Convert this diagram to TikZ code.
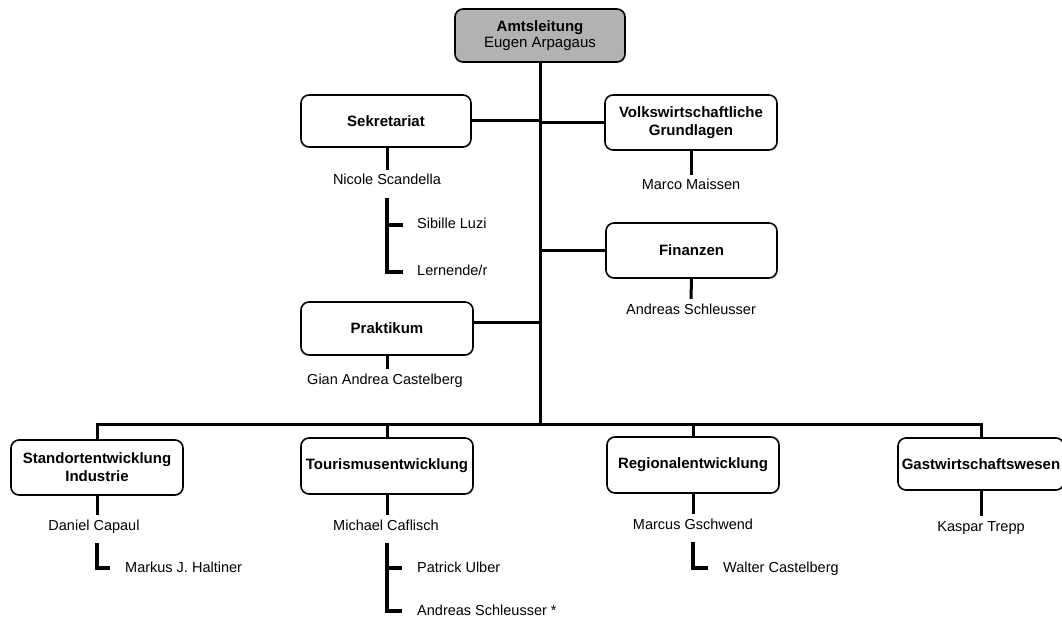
\documentclass[tikz,border=0pt]{standalone}
\usepackage{fontspec}
\setmainfont{Liberation Sans}
\begin{document}
\begin{tikzpicture}[x=1pt,y=-1pt,
  unit/.style={draw=black, line width=1.6pt, rounded corners=8pt, fill=white,
    align=center, font=\fontsize{15}{18}\selectfont\bfseries, inner sep=1pt},
  head/.style={unit, fill=black!30, font=\fontsize{15}{16}\selectfont},
  person/.style={font=\fontsize{14.5}{17}\selectfont, inner sep=4pt,
    text height=11pt, text depth=3pt},
  link/.style={line width=3pt},
  sub/.style={line width=3.2pt, line join=miter},
]
\useasboundingbox (0,0) rectangle (1062,620);

% boxes
\node[head, minimum width=170pt, minimum height=53pt] (amt) at (540,35.5)
  {\textbf{Amtsleitung}\\Eugen Arpagaus};
\node[unit, minimum width=170pt, minimum height=52pt] (sek) at (386,121) {Sekretariat};
\node[unit, minimum width=172pt, minimum height=55pt] (vw) at (691,122.5)
  {Volkswirtschaftliche\\Grundlagen};
\node[unit, minimum width=171pt, minimum height=55pt] (fin) at (691.5,250.5) {Finanzen};
\node[unit, minimum width=172pt, minimum height=53pt] (prak) at (387,328.5) {Praktikum};
\node[unit, minimum width=172pt, minimum height=55pt] (std) at (97,467.5)
  {Standortentwicklung\\Industrie};
\node[unit, minimum width=172pt, minimum height=56pt] (tour) at (387,466) {Tourismusentwicklung};
\node[unit, minimum width=172pt, minimum height=56pt] (reg) at (693,465) {Regionalentwicklung};
\node[unit, minimum width=166pt, minimum height=52pt] (gast) at (981,464) {Gastwirtschaftswesen};

% heads of units
\node[person] (nicole) at (387,181) {Nicole Scandella};
\node[person] (marco) at (691,186) {Marco Maissen};
\node[person] (andf) at (691,310) {Andreas Schleusser};
\node[person] (gian) at (385,380) {Gian Andrea Castelberg};
\node[person] (daniel) at (94,526) {Daniel Capaul};
\node[person] (michael) at (386,526) {Michael Caflisch};
\node[person] (marcus) at (693,525) {Marcus Gschwend};
\node[person] (kaspar) at (981,527) {Kaspar Trepp};

% staff
\node[person, anchor=west] (sibille) at (413,225) {Sibille Luzi};
\node[person, anchor=west] (lern) at (413,272) {Lernende/r};
\node[person, anchor=west] (markus) at (121,568) {Markus J. Haltiner};
\node[person, anchor=west] (patrick) at (413,568) {Patrick Ulber};
\node[person, anchor=west] (ands) at (413,611) {Andreas Schleusser *};
\node[person, anchor=west] (walter) at (719,568) {Walter Castelberg};

% main structure
\coordinate (bus) at (540,424);
\draw[link] (amt.south) -- (bus);
\draw[link] (sek.east) -- (sek.east -| bus);
\draw[link] (vw.west) -- (vw.west -| bus);
\draw[link] (fin.west) -- (fin.west -| bus);
\draw[link] ([yshift=6pt]prak.east) -- ([yshift=6pt]prak.east -| bus);
\draw[link] (std.north) |- (bus) -| (gast.north);
\draw[link] (tour.north) -- (tour.north |- bus);
\draw[link] (reg.north) -- (reg.north |- bus);

% box to head
\draw[link] (sek.south -| nicole.north) -- (nicole.north);
\draw[link] (vw.south) -- (marco.north);
\draw[link] (fin.south) -- (andf.north);
\draw[link] (prak.south) -- (gian.north -| prak.south);
\draw[link] (std.south) -- (daniel.north -| std.south);
\draw[link] (tour.south) -- (michael.north -| tour.south);
\draw[link] (reg.south) -- (marcus.north);
\draw[link] (gast.south) -- (kaspar.north -| gast.south);

% staff brackets
\draw[sub] ([yshift=-6pt]nicole.south) |- ([xshift=-10pt]lern.west);
\draw[sub] (sibille.west -| nicole.south) -- ([xshift=-10pt]sibille.west);
\draw[sub] ([yshift=-6pt]daniel.south -| std.south) |- ([xshift=-11pt]markus.west);
\draw[sub] ([yshift=-6pt]michael.south -| tour.south) |- ([xshift=-11pt]ands.west);
\draw[sub] (patrick.west -| tour.south) -- ([xshift=-11pt]patrick.west);
\draw[sub] ([yshift=-6pt]marcus.south) |- ([xshift=-11pt]walter.west);
\end{tikzpicture}
\end{document}
